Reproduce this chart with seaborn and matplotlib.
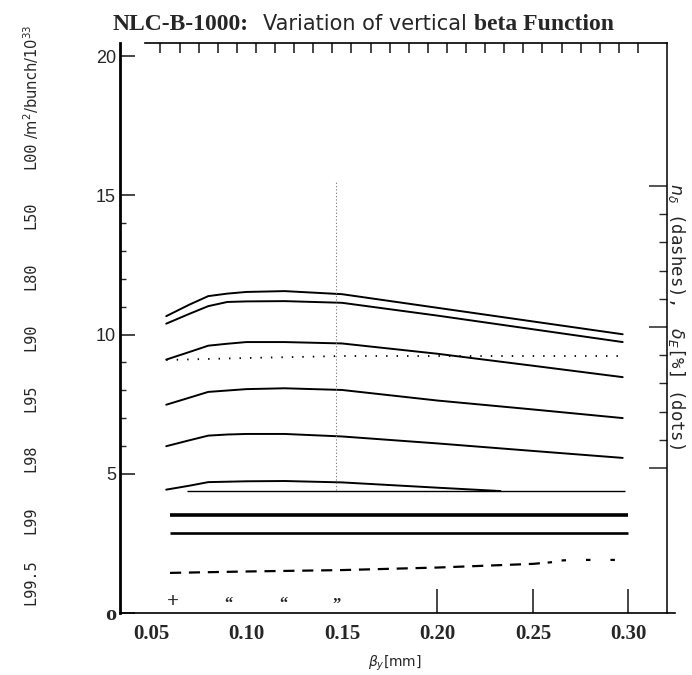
import numpy as np
import pandas as pd
import matplotlib
matplotlib.use("Agg")
import matplotlib.pyplot as plt
import seaborn as sns

# --- values ---
beta = [0.058, 0.07, 0.08, 0.09, 0.10, 0.12, 0.15, 0.20, 0.25, 0.297]
lum_L00 = [10.66, 11.07, 11.38, 11.47, 11.53, 11.56, 11.45, 10.96, 10.47, 10.01]
lum_L50 = [10.39, 10.74, 11.02, 11.17, 11.19, 11.20, 11.14, 10.68, 10.19, 9.73]
lum_L80 = [9.10, 9.37, 9.60, 9.67, 9.73, 9.73, 9.68, 9.31, 8.88, 8.47]
lum_L90 = [7.48, 7.73, 7.94, 7.99, 8.04, 8.07, 8.01, 7.63, 7.31, 7.00]
lum_L95 = [5.99, 6.20, 6.37, 6.41, 6.43, 6.43, 6.34, 6.09, 5.82, 5.57]

beta_L98 = [0.058, 0.07, 0.08, 0.10, 0.12, 0.15, 0.20, 0.233]
lum_L98 = [4.43, 4.57, 4.70, 4.73, 4.74, 4.69, 4.50, 4.38]

# flat lines (L99, L99.5, geometric)
flat_level = [4.38, 3.52, 2.87]
flat_start = [0.069, 0.060, 0.060]
flat_end = [0.298, 0.300, 0.300]

# right axis quantities
beta_nd = [0.06, 0.10, 0.15, 0.20, 0.25, 0.26]
n_delta = [1.28, 1.33, 1.38, 1.47, 1.60, 1.66]
beta_nd_tail = [0.265, 0.27, 0.30]
n_delta_tail = [1.72, 1.74, 1.74]
beta_de = [0.058, 0.10, 0.15, 0.20, 0.25, 0.297]
delta_e = [8.83, 8.90, 8.97, 8.97, 8.97, 8.97]

marker_beta = 0.147
marker_range = (4.4, 15.5)

xtick_vals = [0.05, 0.10, 0.15, 0.20, 0.25, 0.30]
xtick_text = ["0.05", "0.10", "0.15", "0.20", "0.25", "0.30"]
ytick_vals = [0, 5, 10, 15, 20]
ytick_text = ["o", "5", "10", "15", "20"]
lum_tags = ["L99.5", "L99", "L98", "L95", "L90", "L80", "L50", "L00"]

sns.set_style("white")
plt.rcParams["font.family"] = ["DejaVu Sans"]
plt.rcParams["mathtext.fontset"] = "dejavusans"

curves = pd.DataFrame({
    "beta": beta * 5,
    "lum": lum_L00 + lum_L50 + lum_L80 + lum_L90 + lum_L95,
    "curve": sum([[n] * len(beta) for n in ["L00", "L50", "L80", "L90", "L95"]], []),
})

fig = plt.figure(figsize=(6.92, 6.75), dpi=100)
ax = fig.add_axes([120 / 692, 62 / 675, 547 / 692, 570 / 675])

sns.lineplot(data=curves, x="beta", y="lum", units="curve", estimator=None,
             color="black", lw=1.4, ax=ax)
sns.lineplot(x=beta_L98, y=lum_L98, color="black", lw=1.4, ax=ax)
ax.hlines(flat_level, flat_start, flat_end, colors="black", linewidths=[1.0, 2.6, 1.9])
ax.vlines(marker_beta, *marker_range, colors="0.45", linestyles=(0, (1, 2)), linewidth=0.8)

ax.set_xlim(0.0338, 0.3202)
ax.set_ylim(0, 20.47)
ax.set_xlabel("")
ax.set_ylabel("")

# x labels only, visible ticks drawn separately
ax.set_xticks(xtick_vals, xtick_text, fontsize=15, fontweight="bold",
              fontfamily="Liberation Serif")
ax.set_xticks(np.arange(0.16, 0.285, 0.01), minor=True)
ax.tick_params(axis="x", which="major", length=0, pad=8)
ax.tick_params(axis="x", which="minor", direction="in", length=5, width=1.0)

ax.set_yticks(ytick_vals, ytick_text, fontsize=13, fontfamily="Liberation Sans")
ax.set_yticks([6, 7, 8, 9, 11, 12, 13, 14], minor=True)
ax.tick_params(axis="y", which="major", direction="in", length=11, width=1.2, pad=3)
ax.tick_params(axis="y", which="minor", direction="in", length=4, width=1.0)
for lab in ax.get_yticklabels():
    if lab.get_text() == "o":
        lab.set_fontfamily("Liberation Serif")
        lab.set_fontweight("bold")
        lab.set_fontsize(16)

# tall ticks on the bottom axis
secb = ax.secondary_xaxis("bottom")
secb.set_xticks([0.20, 0.25, 0.30])
secb.tick_params(direction="in", length=17, width=1.2, labelbottom=False)
secb.spines["bottom"].set_visible(False)

# ticks hanging from the top axis
sect = ax.secondary_xaxis("top")
sect.set_xticks(np.arange(0.055, 0.315, 0.01))
sect.tick_params(direction="in", length=7, width=1.2, labeltop=False)
sect.spines["top"].set_visible(False)

for side in ["left", "bottom", "top", "right"]:
    ax.spines[side].set_color("black")
ax.spines["left"].set_linewidth(2.0)
ax.spines["bottom"].set_linewidth(1.2)
ax.spines["bottom"].set_bounds(0.0338, 0.3245)
ax.spines["top"].set_linewidth(1.2)
ax.spines["top"].set_bounds(0.047, 0.3202)
ax.spines["right"].set_visible(False)

# right axis: n_delta (dashes), delta_E (dots)
ax2 = ax.twinx()
sns.lineplot(x=beta_nd, y=n_delta, color="black", lw=1.6,
             linestyle=(0, (5, 3.5)), ax=ax2)
sns.lineplot(x=beta_nd_tail, y=n_delta_tail, color="black", lw=1.6,
             linestyle=(0, (2, 9)), ax=ax2)
sns.lineplot(x=beta_de, y=delta_e, color="black", lw=1.3,
             linestyle=(0, (0.8, 5)), ax=ax2)
ax2.set_ylim(-0.142, 20.07)
ax2.set_yticks([5, 10, 15])
ax2.set_yticks([6, 7, 8, 9, 11, 12, 13, 14], minor=True)
ax2.tick_params(axis="y", which="major", direction="in", length=13, width=1.1, labelright=False)
ax2.tick_params(axis="y", which="minor", direction="in", length=6, width=1.0)
ax2.set_ylabel("")
for side in ["left", "bottom", "top"]:
    ax2.spines[side].set_visible(False)
ax2.spines["right"].set_color("black")
ax2.spines["right"].set_linewidth(1.1)

# garbled tick glyphs on the bottom axis
ax.text(0.0615, 0.05, "+", ha="center", va="bottom", fontsize=15,
        fontfamily="Liberation Serif", fontweight="bold")
for gx, g in [(0.0905, "\u201c"), (0.1195, "\u201c"), (0.147, "\u201d")]:
    ax.text(gx, 0.02, g, ha="center", va="bottom", fontsize=12, fontweight="bold",
            fontfamily="Liberation Serif")

# axis titles
fig.text(395 / 692, 1 - 663 / 675, r"$\beta_y$[mm]", ha="center", va="center", fontsize=10)
fig.text(677 / 692, 1 - 183 / 675, r"$n_\delta$ (dashes),  $\delta_E$[%] (dots)",
         rotation=-90, ha="center", va="top", fontsize=12.5, fontfamily="DejaVu Sans Mono")
tag_y = [582, 520, 458, 398, 337, 276, 215, 155]
for tag, py in zip(lum_tags, tag_y):
    fig.text(31 / 692, 1 - py / 675, tag, rotation=90, ha="center", va="center",
             fontsize=11, fontfamily="DejaVu Sans Mono")
fig.text(31 / 692, 1 - 82 / 675, r"/m$^2$/bunch/10$^{33}$", rotation=90,
         ha="center", va="center", fontsize=10.5)

# title in three pieces
t1 = fig.text(113 / 692, 1 - 24 / 675, "NLC-B-1000:", ha="left", va="center",
              fontsize=17, fontweight="bold", fontfamily="Liberation Serif")
t2 = ax.annotate("Variation of vertical", xy=(1, 0.5), xycoords=t1, xytext=(10, 0),
                 textcoords="offset points", ha="left", va="center", fontsize=15,
                 annotation_clip=False)
ax.annotate("beta Function", xy=(1, 0.5), xycoords=t2, xytext=(5, 0),
            textcoords="offset points", ha="left", va="center", fontsize=17,
            fontweight="bold", fontfamily="Liberation Serif", annotation_clip=False)

fig.savefig("out.png", dpi=100)
